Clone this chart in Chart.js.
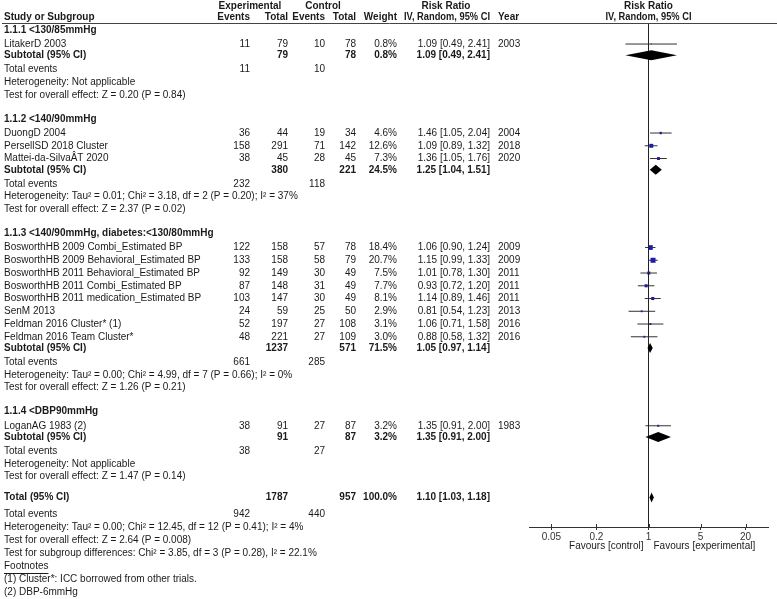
<!DOCTYPE html>
<html>
<head>
<meta charset="utf-8">
<script src="https://cdn.jsdelivr.net/npm/chart.js@4.4.1/dist/chart.umd.min.js"></script>
<style>
  html, body { margin: 0; padding: 0; background: #fff; }
  canvas { display: block; }
</style>
</head>
<body>
<canvas id="forest" width="777" height="599"></canvas>
<script>
// ---- data ----
const groupNames = ['1.1.1 <130/85mmHg', '1.1.2 <140/90mmHg', '1.1.3 <140/90mmHg, diabetes:<130/80mmHg', '1.1.4 <DBP90mmHg'];

const studyNames = [
    'LitakerD 2003',
    'DuongD 2004', 'PersellSD 2018 Cluster', 'Mattei-da-SilvaÂT 2020',
    'BosworthHB 2009 Combi_Estimated BP', 'BosworthHB 2009 Behavioral_Estimated BP',
    'BosworthHB 2011 Behavioral_Estimated BP', 'BosworthHB 2011 Combi_Estimated BP',
    'BosworthHB 2011 medication_Estimated BP', 'SenM 2013', 'Feldman 2016 Cluster* (1)',
    'Feldman 2016 Team Cluster*',
    'LoganAG 1983 (2)'
];
const studyGroup = [0, 1, 1, 1, 2, 2, 2, 2, 2, 2, 2, 2, 3];
const expEvents  = [11, 36, 158, 38, 122, 133, 92, 87, 103, 24, 52, 48, 38];
const expTotal   = [79, 44, 291, 45, 158, 158, 149, 148, 147, 59, 197, 221, 91];
const ctrlEvents = [10, 19, 71, 28, 57, 58, 30, 31, 30, 25, 27, 27, 27];
const ctrlTotal  = [78, 34, 142, 45, 78, 79, 49, 49, 49, 50, 108, 109, 87];
const weights    = [0.8, 4.6, 12.6, 7.3, 18.4, 20.7, 7.5, 7.7, 8.1, 2.9, 3.1, 3.0, 3.2];
const rr         = [1.09, 1.46, 1.09, 1.36, 1.06, 1.15, 1.01, 0.93, 1.14, 0.81, 1.06, 0.88, 1.35];
const rrLow      = [0.49, 1.05, 0.89, 1.05, 0.90, 0.99, 0.78, 0.72, 0.89, 0.54, 0.71, 0.58, 0.91];
const rrHigh     = [2.41, 2.04, 1.32, 1.76, 1.24, 1.33, 1.30, 1.20, 1.46, 1.23, 1.58, 1.32, 2.00];
const years      = [2003, 2004, 2018, 2020, 2009, 2009, 2011, 2011, 2011, 2013, 2016, 2016, 1983];

const subExpTotal   = [79, 380, 1237, 91];
const subCtrlTotal  = [78, 221, 571, 87];
const subWeight     = [0.8, 24.5, 71.5, 3.2];
const subRR         = [1.09, 1.25, 1.05, 1.35];
const subLow        = [0.49, 1.04, 0.97, 0.91];
const subHigh       = [2.41, 1.51, 1.14, 2.00];
const subExpEvents  = [11, 232, 661, 38];
const subCtrlEvents = [10, 118, 285, 27];
const subHet = [
    'Heterogeneity: Not applicable',
    'Heterogeneity: Tau² = 0.01; Chi² = 3.18, df = 2 (P = 0.20); I² = 37%',
    'Heterogeneity: Tau² = 0.00; Chi² = 4.99, df = 7 (P = 0.66); I² = 0%',
    'Heterogeneity: Not applicable'
];
const subTest = [
    'Test for overall effect: Z = 0.20 (P = 0.84)',
    'Test for overall effect: Z = 2.37 (P = 0.02)',
    'Test for overall effect: Z = 1.26 (P = 0.21)',
    'Test for overall effect: Z = 1.47 (P = 0.14)'
];

const totalCounts = [1787, 957];
const totalEvents = [942, 440];
const totalEffect = [1.10, 1.03, 1.18];
const totalNotes = [
    'Heterogeneity: Tau² = 0.00; Chi² = 12.45, df = 12 (P = 0.41); I² = 4%',
    'Test for overall effect: Z = 2.64 (P = 0.008)',
    'Test for subgroup differences: Chi² = 3.85, df = 3 (P = 0.28), I² = 22.1%'
];
const footnotes = ['(1) Cluster*: ICC borrowed from other trials.', '(2) DBP-6mmHg'];
const xTicks = [0.05, 0.2, 1, 5, 20];

// ---- row layout (in row units) ----
const rows = [];
let slot = 0.55;
groupNames.forEach((g, gi) => {
    if (gi > 0) slot += 1.9;
    rows.push({ slot, type: 'group', gi });
    slot += 1.1;
    let first = true;
    studyNames.forEach((s, i) => {
        if (studyGroup[i] !== gi) return;
        if (!first) slot += 1.0;
        first = false;
        rows.push({ slot, type: 'study', i });
    });
    slot += 0.88; rows.push({ slot, type: 'subtotal', gi });
    slot += 1.1; rows.push({ slot, type: 'events', gi });
    slot += 1.0; rows.push({ slot, type: 'text', text: subHet[gi] });
    slot += 1.0; rows.push({ slot, type: 'text', text: subTest[gi] });
});
slot += 1.65; rows.push({ slot, type: 'total' });
slot += 1.33; rows.push({ slot, type: 'totalEvents' });
totalNotes.forEach(t => { slot += 1.02; rows.push({ slot, type: 'text', text: t }); });
slot += 1.02; rows.push({ slot, type: 'underline', text: 'Footnotes' });
footnotes.forEach(t => { slot += 1.02; rows.push({ slot, type: 'text', text: t }); });

const studySlot = {};
const subSlot = {};
let totalSlot = 0;
rows.forEach(r => {
    if (r.type === 'study') studySlot[r.i] = r.slot;
    if (r.type === 'subtotal') subSlot[r.gi] = r.slot;
    if (r.type === 'total') totalSlot = r.slot;
});

const Y_MAX = 39.53;
const FONT = '"Liberation Sans", Arial, sans-serif';
const TXT = '#1a1a1a';

// ---- datasets ----
const datasets = [];
datasets.push({
    type: 'line', data: [{ x: 1, y: 0 }, { x: 1, y: Y_MAX }],
    borderColor: '#222', borderWidth: 1, pointRadius: 0
});
studyNames.forEach((s, i) => {
    datasets.push({
        type: 'line',
        data: [{ x: rrLow[i], y: studySlot[i] }, { x: rrHigh[i], y: studySlot[i] }],
        borderColor: '#333', borderWidth: 1, pointRadius: 0
    });
});
datasets.push({
    type: 'scatter',
    data: studyNames.map((s, i) => ({ x: rr[i], y: studySlot[i] })),
    pointStyle: 'rect',
    pointRadius: weights.map(w => Math.max(0.6, 1.1 * Math.sqrt(w)) / Math.SQRT2),
    backgroundColor: '#1414d2', borderColor: '#1414d2', borderWidth: 0
});

const fmt2 = v => v.toFixed(2);
const ciText = (e, l, h) => `${fmt2(e)} [${fmt2(l)}, ${fmt2(h)}]`;

// diamonds + text table drawn with the chart's scales
const tablePlugin = {
    id: 'table',
    afterDatasetsDraw(chart) {
        const { ctx, chartArea, scales: { x, y } } = chart;
        const diamond = (e, l, h, s) => {
            const py = y.getPixelForValue(s);
            ctx.beginPath();
            ctx.moveTo(x.getPixelForValue(l), py);
            ctx.lineTo(x.getPixelForValue(e), py - 5);
            ctx.lineTo(x.getPixelForValue(h), py);
            ctx.lineTo(x.getPixelForValue(e), py + 5);
            ctx.closePath();
            ctx.fillStyle = '#000';
            ctx.fill();
        };
        ctx.save();
        groupNames.forEach((g, gi) => diamond(subRR[gi], subLow[gi], subHigh[gi], subSlot[gi]));
        diamond(totalEffect[0], totalEffect[1], totalEffect[2], totalSlot);
        // upper half of the axis tick marks (ticks cross the axis line)
        ctx.strokeStyle = '#333';
        ctx.lineWidth = 1;
        x.ticks.forEach(t => {
            const px = Math.round(x.getPixelForValue(t.value)) + 0.5;
            ctx.beginPath();
            ctx.moveTo(px, chartArea.bottom - 3);
            ctx.lineTo(px, chartArea.bottom);
            ctx.stroke();
        });
        ctx.restore();
    },
    afterDraw(chart) {
        const { ctx, chartArea, scales: { x, y } } = chart;
        const x1 = x.getPixelForValue(1);
        ctx.save();
        ctx.fillStyle = TXT;
        ctx.textBaseline = 'middle';
        const put = (t, px, py, align, bold, maxW) => {
            ctx.font = (bold ? 'bold ' : '') + '10px ' + FONT;
            ctx.textAlign = align || 'left';
            if (maxW) ctx.fillText(t, px, py, maxW);
            else ctx.fillText(t, px, py);
        };
        const col = { label: 4, ee: 250, et: 288, ce: 325, ct: 356, w: 397, ci: 490, yr: 498 };

        // header
        const h1 = chartArea.top - 17, h2 = chartArea.top - 6;
        put('Experimental', 250, h1, 'center', true);
        put('Control', 323, h1, 'center', true);
        put('Risk Ratio', 446, h1, 'center', true);
        put('Risk Ratio', x1, h1, 'center', true);
        put('Study or Subgroup', col.label, h2, 'left', true);
        put('Events', col.ee, h2, 'right', true);
        put('Total', col.et, h2, 'right', true);
        put('Events', col.ce, h2, 'right', true);
        put('Total', col.ct, h2, 'right', true);
        put('Weight', col.w, h2, 'right', true);
        put('IV, Random, 95% CI', col.ci, h2, 'right', true, 86);
        put('Year', col.yr, h2, 'left', true);
        put('IV, Random, 95% CI', x1, h2, 'center', true, 86);
        ctx.strokeStyle = '#444';
        ctx.lineWidth = 1;
        ctx.beginPath();
        ctx.moveTo(2, chartArea.top + 0.5);
        ctx.lineTo(777, chartArea.top + 0.5);
        ctx.stroke();

        rows.forEach(r => {
            const py = y.getPixelForValue(r.slot);
            if (r.type === 'group') {
                put(groupNames[r.gi], col.label, py, 'left', true);
            } else if (r.type === 'study') {
                const i = r.i;
                put(studyNames[i], col.label, py);
                put(String(expEvents[i]), col.ee, py, 'right');
                put(String(expTotal[i]), col.et, py, 'right');
                put(String(ctrlEvents[i]), col.ce, py, 'right');
                put(String(ctrlTotal[i]), col.ct, py, 'right');
                put(weights[i].toFixed(1) + '%', col.w, py, 'right');
                put(ciText(rr[i], rrLow[i], rrHigh[i]), col.ci, py, 'right');
                put(String(years[i]), col.yr, py, 'left');
            } else if (r.type === 'subtotal') {
                const gi = r.gi;
                put('Subtotal (95% CI)', col.label, py, 'left', true);
                put(String(subExpTotal[gi]), col.et, py, 'right', true);
                put(String(subCtrlTotal[gi]), col.ct, py, 'right', true);
                put(subWeight[gi].toFixed(1) + '%', col.w, py, 'right', true);
                put(ciText(subRR[gi], subLow[gi], subHigh[gi]), col.ci, py, 'right', true);
            } else if (r.type === 'events') {
                put('Total events', col.label, py);
                put(String(subExpEvents[r.gi]), col.ee, py, 'right');
                put(String(subCtrlEvents[r.gi]), col.ce, py, 'right');
            } else if (r.type === 'total') {
                put('Total (95% CI)', col.label, py, 'left', true);
                put(String(totalCounts[0]), col.et, py, 'right', true);
                put(String(totalCounts[1]), col.ct, py, 'right', true);
                put('100.0%', col.w, py, 'right', true);
                put(ciText(totalEffect[0], totalEffect[1], totalEffect[2]), col.ci, py, 'right', true);
            } else if (r.type === 'totalEvents') {
                put('Total events', col.label, py);
                put(String(totalEvents[0]), col.ee, py, 'right');
                put(String(totalEvents[1]), col.ce, py, 'right');
            } else if (r.type === 'underline') {
                put(r.text, col.label, py);
                const w = ctx.measureText(r.text).width;
                ctx.strokeStyle = TXT;
                ctx.beginPath();
                ctx.moveTo(col.label, Math.round(py + 6) + 0.5);
                ctx.lineTo(col.label + w, Math.round(py + 6) + 0.5);
                ctx.stroke();
            } else {
                put(r.text, col.label, py);
            }
        });

        // favours labels under the axis
        const fy = chartArea.bottom + 19;
        put('Favours [control]', x1 - 5, fy, 'right');
        put('Favours [experimental]', x1 + 5, fy, 'left');
        ctx.restore();
    }
};

new Chart(document.getElementById('forest'), {
    type: 'scatter',
    data: { datasets },
    options: {
        responsive: false,
        animation: false,
        layout: { padding: { left: 529, right: 9, top: 23, bottom: 0 } },
        plugins: { legend: { display: false }, tooltip: { enabled: false } },
        scales: {
            x: {
                type: 'logarithmic',
                position: 'bottom',
                min: 0.025,
                max: 40,
                afterBuildTicks: s => { s.ticks = xTicks.map(v => ({ value: v })); },
                afterFit: s => { s.height = 72; },
                border: { display: true, color: '#333', width: 1 },
                grid: { display: true, drawOnChartArea: false, drawTicks: true, tickLength: 3, color: '#333' },
                ticks: {
                    autoSkip: false, maxRotation: 0, padding: 1, color: '#333',
                    font: { family: FONT, size: 10 },
                    callback: v => String(v)
                }
            },
            y: {
                type: 'linear',
                display: false,
                reverse: true,
                min: 0,
                max: Y_MAX
            }
        }
    },
    plugins: [tablePlugin]
});
</script>
</body>
</html>
